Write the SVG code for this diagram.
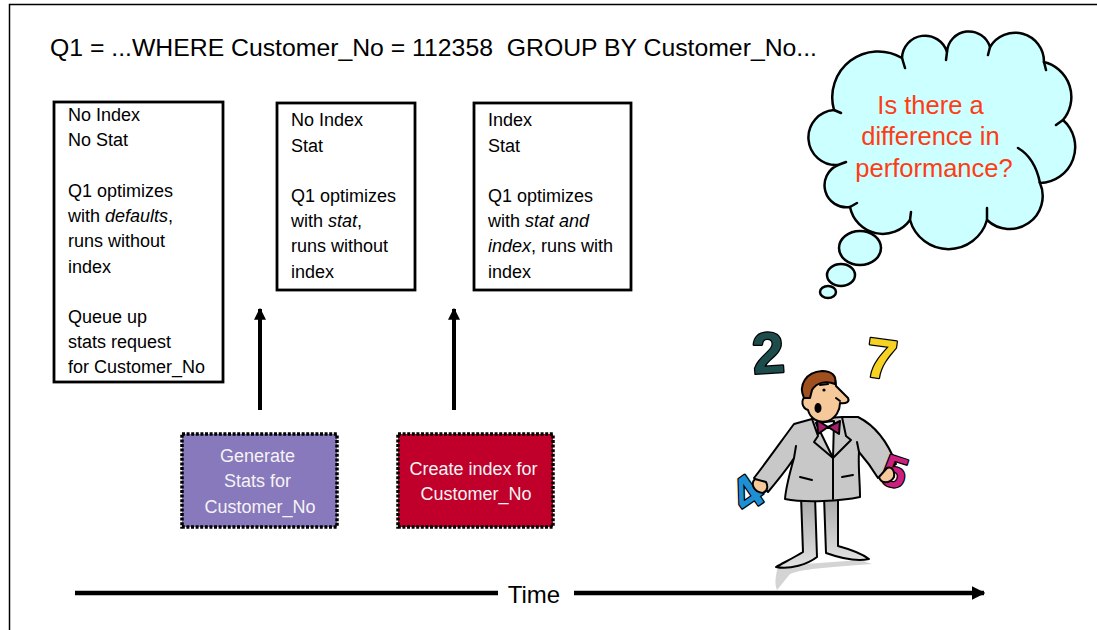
<svg xmlns="http://www.w3.org/2000/svg" width="1097" height="630" viewBox="0 0 1097 630">
  <style>
    .t { font-family: "Liberation Sans", Arial, sans-serif; fill: #000; }
    .box { fill: #fff; stroke: #000; stroke-width: 2.8; }
    .bt { font-family: "Liberation Sans", Arial, sans-serif; font-size: 18px; fill: #000; }
    .step { stroke: #000; stroke-width: 3.5; stroke-dasharray: 3 1.6; }
    .st { font-family: "Liberation Sans", Arial, sans-serif; font-size: 18px; fill: #f4f4f4; text-anchor: middle; }
    .cl { fill: #ccffff; stroke: #000; stroke-width: 2.5; }
    .hook { fill: none; stroke: #000; stroke-width: 2.5; stroke-linecap: round; }
    .ct { font-family: "Liberation Sans", Arial, sans-serif; font-size: 25.5px; fill: #ff3c14; text-anchor: middle; }
    .ol { stroke: #000; stroke-width: 2; stroke-linejoin: round; stroke-linecap: round; }
    .num { font-family: "Liberation Sans", Arial, sans-serif; font-weight: bold; stroke: #000; stroke-width: 2.5; paint-order: stroke; stroke-linejoin: round; }
  </style>
  <defs>
    <marker id="ah" viewBox="0 0 10 10" refX="9" refY="5" markerWidth="3" markerHeight="3.2" orient="auto" markerUnits="strokeWidth">
      <path d="M0,0 L10,5 L0,10 Z" fill="#000"/>
    </marker>
    <linearGradient id="leg" x1="0" y1="0" x2="0" y2="1">
      <stop offset="0" stop-color="#a8a8a8"/>
      <stop offset="1" stop-color="#e2e2e2"/>
    </linearGradient>
  </defs>

  <!-- page frame -->
  <path d="M9.5,630 L9.5,4.5 L1097,4.5" fill="none" stroke="#000" stroke-width="1.5"/>

  <!-- query heading -->
  <text id="query" class="t" x="50" y="56" font-size="24.5" xml:space="preserve" textLength="767" lengthAdjust="spacingAndGlyphs">Q1 = ...WHERE Customer_No = 112358  GROUP BY Customer_No...</text>

  <!-- state boxes -->
  <g id="state-none">
    <rect class="box" x="54" y="102" width="169" height="280"/>
    <text class="bt" x="68">
      <tspan x="68" y="121">No Index</tspan>
      <tspan x="68" y="146">No Stat</tspan>
      <tspan x="68" y="197">Q1 optimizes</tspan>
      <tspan x="68" y="222">with <tspan font-style="italic">defaults</tspan>,</tspan>
      <tspan x="68" y="247">runs without</tspan>
      <tspan x="68" y="273">index</tspan>
      <tspan x="68" y="323">Queue up</tspan>
      <tspan x="68" y="348">stats request</tspan>
      <tspan x="68" y="373">for Customer_No</tspan>
    </text>
  </g>
  <g id="state-stat">
    <rect class="box" x="277" y="103" width="138" height="187"/>
    <text class="bt">
      <tspan x="291" y="126">No Index</tspan>
      <tspan x="291" y="152">Stat</tspan>
      <tspan x="291" y="202">Q1 optimizes</tspan>
      <tspan x="291" y="227">with <tspan font-style="italic">stat</tspan>,</tspan>
      <tspan x="291" y="252">runs without</tspan>
      <tspan x="291" y="278">index</tspan>
    </text>
  </g>
  <g id="state-index">
    <rect class="box" x="474" y="103" width="157" height="187"/>
    <text class="bt">
      <tspan x="488" y="126">Index</tspan>
      <tspan x="488" y="152">Stat</tspan>
      <tspan x="488" y="202">Q1 optimizes</tspan>
      <tspan x="488" y="227">with <tspan font-style="italic">stat and</tspan></tspan>
      <tspan x="488" y="252"><tspan font-style="italic">index</tspan>, runs with</tspan>
      <tspan x="488" y="278">index</tspan>
    </text>
  </g>

  <!-- actions -->
  <g id="gen-stats">
    <rect class="step" x="182" y="434" width="155" height="93" fill="#8878bc"/>
    <text class="st">
      <tspan x="260" y="462">Generate</tspan>
      <tspan x="260" y="487">Stats for</tspan>
      <tspan x="260" y="513">Customer_No</tspan>
    </text>
  </g>
  <g id="create-index">
    <rect class="step" x="398" y="434" width="155" height="93" fill="#c0002a"/>
    <text class="st">
      <tspan x="476" y="475">Create index for</tspan>
      <tspan x="476" y="500">Customer_No</tspan>
    </text>
  </g>

  <!-- connectors -->
  <g id="connectors" stroke="#000" fill="none">
    <line x1="260" y1="410" x2="260" y2="309" stroke-width="4" marker-end="url(#ah)"/>
    <line x1="454" y1="410" x2="454" y2="309" stroke-width="4" marker-end="url(#ah)"/>
  </g>

  <!-- time axis -->
  <g id="time-axis">
    <line x1="75" y1="593" x2="498" y2="593" stroke="#000" stroke-width="4.5"/>
    <line x1="574" y1="593" x2="984" y2="593" stroke="#000" stroke-width="4.5" marker-end="url(#ah)"/>
    <text class="t" x="534" y="603" font-size="24" text-anchor="middle">Time</text>
  </g>

  <!-- thought cloud -->
  <g id="thought">
    <ellipse class="cl" cx="860" cy="248" rx="21" ry="17"/>
    <ellipse class="cl" cx="841" cy="275" rx="14" ry="11"/>
    <ellipse class="cl" cx="828" cy="292" rx="8" ry="6"/>
    <path class="cl" d="M834,110 A46,46 0 0 1 902,58 A23,23 0 0 1 947,52 A22,22 0 0 1 990,47 A29,29 0 0 1 1044,62 A36,36 0 0 1 1063,120 A36,36 0 0 1 1040,183 A33,33 0 0 1 987,220 A40,40 0 0 1 910,220 A33.5,33.5 0 0 1 850,207 A22,22 0 0 1 838,165 A27.5,27.5 0 0 1 834,110 Z"/>
    <path class="hook" d="M902,58 L905,68 M947,52 L946,60 M990,47 L988,55 M1044,62 L1046,70 M1063,120 L1056,125 M1040,183 Q1035,158 1018,148 M987,220 L987,208 M910,220 L911,212 M850,207 L857,203 M838,165 L846,162 M834,110 L841,113"/>
    <text class="ct">
      <tspan x="934" y="114">Is there a</tspan>
      <tspan x="934" y="145">difference in</tspan>
      <tspan x="934" y="177">performance?</tspan>
    </text>
  </g>

  <!-- puzzled man juggling digits -->
  <g id="man">
    <!-- shadow -->
    <path d="M778,566 C776,575 774,583 777,590 L790,574 C805,568 835,567 872,564 L860,560 Z" fill="#d4d4d4"/>
    <!-- legs -->
    <path class="ol" fill="url(#leg)" d="M801,496 L803,552 C795,557 785,562 776,567 C790,570 808,564 817,557 L815,496 Z"/>
    <path class="ol" fill="url(#leg)" d="M824,496 L826,553 C840,558 855,562 869,559 C861,553 849,549 838,546 L838,496 Z"/>
    <!-- suit -->
    <path class="ol" fill="#c8c8c8" d="M812,419 L794,424 C782,440 768,460 754,478 L768,492 C778,480 788,468 794,458 C790,472 786,486 785,499 C805,503 842,501 860,497 C860,482 858,466 859,452 C866,460 872,468 878,478 L896,464 C890,448 880,428 858,417 L842,417 Z"/>
    <!-- shirt and tie -->
    <path class="ol" fill="#fff" d="M816,423 L834,421 L833,458 Z"/>
    <path class="ol" fill="none" d="M812,419 L818,436 L814,442 L833,458 L851,440 L846,436 L842,417 M833,458 L833,499 M800,477 L812,480 M842,477 L853,475 M794,458 L796,446 M859,452 L857,442"/>
    <path class="ol" fill="#a3206b" stroke-width="1.5" d="M828,427 L817,420 L818,434 Z M828,427 L840,421 L839,434 Z"/>
    <!-- head -->
    <path class="ol" fill="#f6c99b" d="M806,388 C804,378 812,371 824,372 C832,373 836,378 836,386 L848,398 C850,402 846,404 840,403 C840,410 836,418 828,421 C818,424 810,418 808,410 C802,408 800,400 806,396 Z"/>
    <path class="ol" fill="#a0501e" d="M804,398 C798,385 806,372 822,371 C832,371 837,376 835,384 C826,380 816,383 812,390 L810,398 Z"/>
    <circle cx="824" cy="390" r="1.6" fill="#000"/>
    <path class="ol" fill="none" d="M820,385 L828,384 M836,398 L840,401"/>
    <ellipse cx="818" cy="408" rx="3.5" ry="5" fill="#000"/>
    <!-- digits -->
    <text class="num" x="752" y="373" font-size="58" fill="#1d4c4c" transform="rotate(-4 767 352)">2</text>
    <text class="num" x="866" y="378" font-size="56" fill="#f6d222" transform="rotate(8 880 356)">7</text>
    <text class="num" x="733" y="509" font-size="48" fill="#1e8fd2" transform="rotate(-35 748 492)">4</text>
    <text class="num" x="883" y="487" font-size="44" fill="#cc2080" transform="rotate(18 895 470)">5</text>
    <!-- hands -->
    <path class="ol" fill="#f6c99b" stroke-width="1.5" d="M755,479 C750,484 754,492 763,493 C768,491 768,486 766,482 Z"/>
    <path class="ol" fill="#f6c99b" stroke-width="1.5" d="M879,477 C881,484 890,484 894,477 C895,470 891,466 887,468 Z"/>
  </g>
</svg>
